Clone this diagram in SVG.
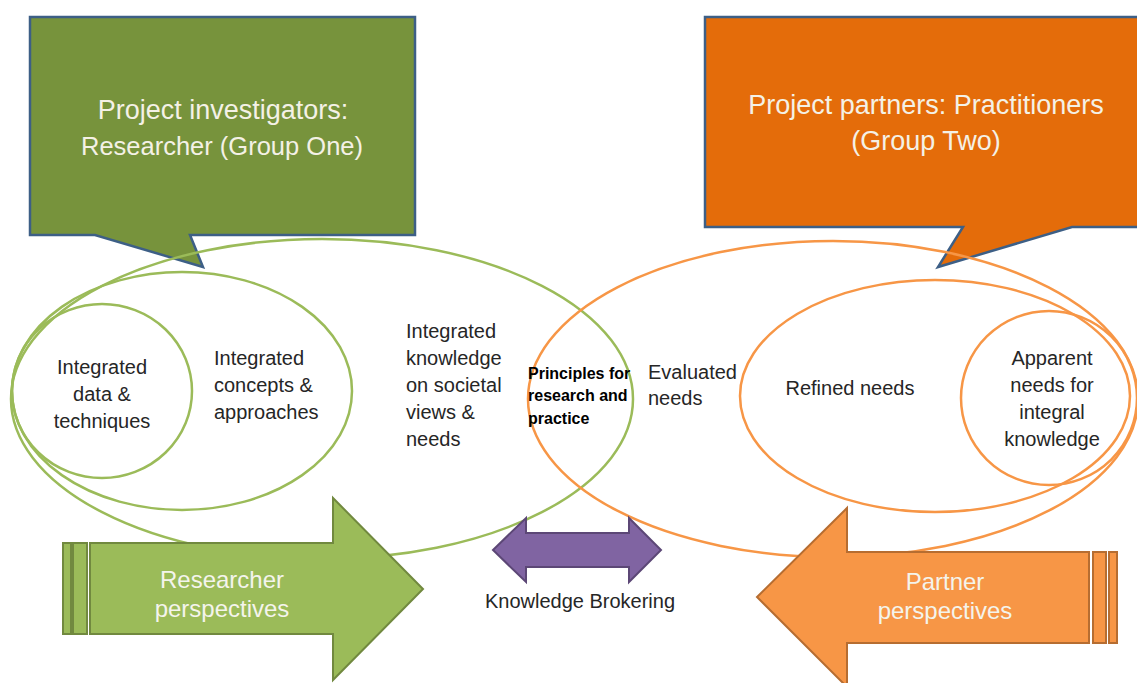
<svg xmlns="http://www.w3.org/2000/svg" width="1137" height="683" viewBox="0 0 1137 683">
<style>
text{font-family:"Liberation Sans",Arial,sans-serif}
.call{font-size:27px;fill:#f4f1e6;text-anchor:middle}
.call2{font-size:25.5px}
.dark{font-size:20px;fill:#262626}
.mid{text-anchor:middle}
.bold{font-size:16px;font-weight:bold;fill:#000}
.arw{font-size:24px;fill:#f4f4ec;text-anchor:middle}
.eg{fill:none;stroke:#9bbb59;stroke-width:2.5}
.eo{fill:none;stroke:#f79646;stroke-width:2.5}
</style>
<rect width="1137" height="683" fill="#fff"/>
<g id="callout-researchers">
<path d="M30,17 H415 V235 H190 L203,267 L95,235 H30 Z" fill="#77933c" stroke="#3d5f86" stroke-width="2.5"/>
<text class="call" x="223" y="119">Project investigators:</text>
<text class="call call2" x="222" y="155">Researcher (Group One)</text>
</g>
<g id="callout-partners">
<path d="M705,17 H1150 V227 H1072 L938,267 L963,227 H705 Z" fill="#e46c0a" stroke="#3d5f86" stroke-width="2.5"/>
<text class="call" x="926" y="114">Project partners: Practitioners</text>
<text class="call" x="926" y="150">(Group Two)</text>
</g>
<g id="ellipse-research-large">
<ellipse class="eg" cx="322" cy="399" rx="311" ry="160"/>
<text class="dark" x="406" y="338">Integrated</text>
<text class="dark" x="406" y="365">knowledge</text>
<text class="dark" x="406" y="392">on societal</text>
<text class="dark" x="406" y="419">views &amp;</text>
<text class="dark" x="406" y="446">needs</text>
</g>
<g id="ellipse-research-medium">
<ellipse class="eg" cx="182" cy="391" rx="170" ry="119"/>
<text class="dark" x="214" y="365">Integrated</text>
<text class="dark" x="214" y="392">concepts &amp;</text>
<text class="dark" x="214" y="419">approaches</text>
</g>
<g id="ellipse-research-small">
<ellipse class="eg" cx="102" cy="391" rx="90" ry="87"/>
<text class="dark mid" x="102" y="374">Integrated</text>
<text class="dark mid" x="102" y="401">data &amp;</text>
<text class="dark mid" x="102" y="428">techniques</text>
</g>
<g id="ellipse-partner-large">
<ellipse class="eo" cx="833" cy="399" rx="305" ry="158"/>
<text class="dark" x="648" y="379">Evaluated</text>
<text class="dark" x="648" y="405">needs</text>
</g>
<g id="ellipse-partner-medium">
<ellipse class="eo" cx="935" cy="396" rx="195" ry="116"/>
<text class="dark mid" x="850" y="395">Refined needs</text>
</g>
<g id="ellipse-partner-small">
<ellipse class="eo" cx="1049" cy="398" rx="88" ry="87"/>
<text class="dark mid" x="1052" y="365">Apparent</text>
<text class="dark mid" x="1052" y="392">needs for</text>
<text class="dark mid" x="1052" y="419">integral</text>
<text class="dark mid" x="1052" y="446">knowledge</text>
</g>
<g id="overlap-principles">
<text class="bold" x="528" y="379">Principles for</text>
<text class="bold" x="528" y="401">research and</text>
<text class="bold" x="528" y="424">practice</text>
</g>
<g id="arrow-researcher">
<g fill="#9bbb59" stroke="#71893f" stroke-width="2">
<rect x="63" y="543" width="8" height="91"/>
<rect x="73" y="543" width="14" height="91"/>
<path d="M90,543 H333 V498 L423,589 L333,680 V634 H90 Z"/>
</g>
<text class="arw" x="222" y="588">Researcher</text>
<text class="arw" x="222" y="617">perspectives</text>
</g>
<g id="arrow-partner">
<g fill="#f79646" stroke="#b66d31" stroke-width="2">
<rect x="1109" y="552" width="8" height="91"/>
<rect x="1093" y="552" width="13" height="91"/>
<path d="M1089,552 H847 V508 L757,597 L847,687 V643 H1089 Z"/>
</g>
<text class="arw" x="945" y="590">Partner</text>
<text class="arw" x="945" y="619">perspectives</text>
</g>
<g id="connectors">
<path d="M493,550 L526,518 V533 H629 V518 L661,550 L629,582 V567 H526 V582 Z" fill="#8064a2" stroke="#5c4776" stroke-width="2"/>
<text x="580" y="608" font-size="20" fill="#262626" text-anchor="middle">Knowledge Brokering</text>
</g>
</svg>
